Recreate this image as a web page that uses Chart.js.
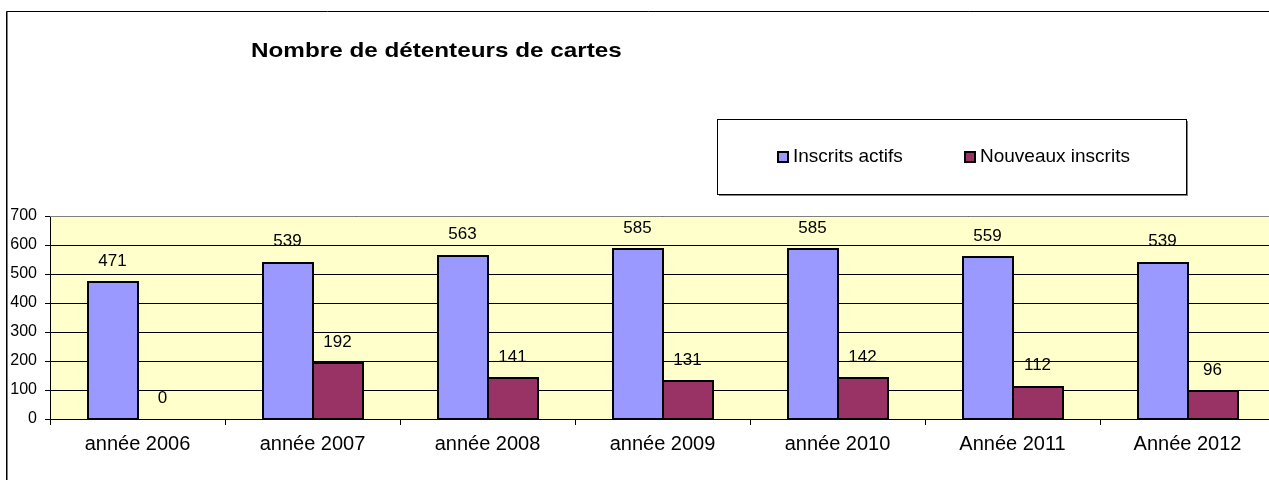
<!DOCTYPE html>
<html>
<head>
<meta charset="utf-8">
<script src="https://cdn.jsdelivr.net/npm/chart.js@4/dist/chart.umd.min.js"></script>
<style>
html,body{margin:0;padding:0;background:#fff;overflow:hidden;width:1269px;height:480px;}
canvas{display:block;}
</style>
</head>
<body>
<canvas id="c" width="1290" height="480" style="width:1290px;height:480px"></canvas>
<script>
const titleText = "Nombre de détenteurs de cartes";
const categories = ["année 2006","année 2007","année 2008","année 2009","année 2010","Année 2011","Année 2012"];
const seriesNames = ["Inscrits actifs","Nouveaux inscrits"];
const inscritsActifs = [471,539,563,585,585,559,539];
const nouveauxInscrits = [0,192,141,131,142,112,96];
const yTicks = [0,100,200,300,400,500,600,700];
const colors = ["#9999FF","#993366"];

const FONT = "'Liberation Sans', Arial, sans-serif";

const decor = {
  id:'decor',
  beforeDraw(chart){
    const ctx = chart.ctx, a = chart.chartArea;
    ctx.save();
    ctx.fillStyle = '#fff';
    ctx.fillRect(0,0,chart.width,chart.height);
    // outer frame
    ctx.strokeStyle = '#000'; ctx.lineWidth = 1;
    ctx.beginPath(); ctx.moveTo(6.5,1000); ctx.lineTo(6.5,11.5); ctx.lineTo(2000,11.5); ctx.stroke();
    ctx.strokeStyle = '#808080';
    ctx.beginPath(); ctx.moveTo(7.5,1000); ctx.lineTo(7.5,12); ctx.stroke();
    // plot background
    ctx.fillStyle = '#FFFFCC';
    ctx.fillRect(a.left, a.top, a.right-a.left, a.bottom-a.top);
    ctx.restore();
  },
  afterDatasetsDraw(chart){
    const ctx = chart.ctx;
    ctx.save();
    // bar outlines
    ctx.strokeStyle = '#000';
    ctx.lineWidth = 2;
    chart.data.datasets.forEach((ds,i)=>{
      const meta = chart.getDatasetMeta(i);
      meta.data.forEach((el,j)=>{
        if (!ds.data[j]) return;
        const p = el.getProps(['x','y','base','width'], true);
        const l = Math.round(p.x - p.width/2);
        const r = Math.round(p.x + p.width/2);
        const t = Math.round(p.y);
        const b = Math.round(p.base);
        ctx.strokeRect(l, t, r-l, b-t);
      });
    });
    // data labels
    ctx.font = "17px " + FONT;
    ctx.fillStyle = '#000';
    ctx.textAlign = 'center';
    ctx.textBaseline = 'middle';
    chart.data.datasets.forEach((ds,i)=>{
      const meta = chart.getDatasetMeta(i);
      meta.data.forEach((el,j)=>{
        ctx.fillText(String(ds.data[j]), el.x, el.y - 21);
      });
    });
    ctx.restore();
  },
  afterDraw(chart){
    const ctx = chart.ctx, a = chart.chartArea;
    ctx.save();
    // plot border top (gray)
    ctx.strokeStyle = '#808080'; ctx.lineWidth = 1;
    ctx.beginPath(); ctx.moveTo(a.left, a.top+0.5); ctx.lineTo(a.right, a.top+0.5); ctx.stroke();
    // title
    ctx.fillStyle = '#000';
    ctx.font = "bold 21px " + FONT;
    ctx.textBaseline = 'alphabetic';
    ctx.translate(251, 57);
    ctx.scale(1.155, 1);
    ctx.fillText(titleText, 0, 0);
    ctx.restore();
    // legend
    ctx.save();
    ctx.fillStyle = '#808080';
    ctx.fillRect(719, 121, 469, 75);
    ctx.fillStyle = '#fff';
    ctx.fillRect(717, 119, 469, 75);
    ctx.strokeStyle = '#000'; ctx.lineWidth = 1;
    ctx.strokeRect(717.5, 119.5, 469, 75);
    ctx.font = "19px " + FONT;
    ctx.textBaseline = 'middle';
    const xs = [777, 964];
    chart.data.datasets.forEach((ds,i)=>{
      ctx.fillStyle = ds.backgroundColor;
      ctx.fillRect(xs[i], 151, 11, 11);
      ctx.lineWidth = 2; ctx.strokeStyle = '#000';
      ctx.strokeRect(xs[i]+1, 152, 10, 10);
      ctx.fillStyle = '#000';
      ctx.fillText(ds.label, xs[i]+16, 157);
    });
    ctx.restore();
  }
};

new Chart(document.getElementById('c'), {
  type:'bar',
  data:{
    labels: categories,
    datasets:[
      {label: seriesNames[0], data: inscritsActifs, backgroundColor: colors[0], borderWidth:0},
      {label: seriesNames[1], data: nouveauxInscrits, backgroundColor: colors[1], borderWidth:0}
    ]
  },
  options:{
    responsive:false,
    animation:false,
    devicePixelRatio:1,
    layout:{padding:{top:216,left:0,right:15,bottom:0}},
    datasets:{bar:{categoryPercentage:100/175, barPercentage:1}},
    plugins:{legend:{display:false}, title:{display:false}, tooltip:{enabled:false}},
    scales:{
      x:{
        offset:true,
        grid:{offset:true, drawOnChartArea:false, drawTicks:true, tickLength:6, color:'#000', lineWidth:1},
        border:{color:'#000', width:1},
        ticks:{color:'#000', font:{family:FONT, size:20}, padding:7, maxRotation:0, autoSkip:false},
        afterFit(s){ s.height = 61; }
      },
      y:{
        min:0, max:700,
        afterBuildTicks(s){ s.ticks = yTicks.map(v=>({value:v})); },
        grid:{color:'#000', lineWidth:1, drawTicks:true, tickLength:5},
        border:{color:'#000', width:1},
        ticks:{color:'#000', font:{family:FONT, size:16}, padding:8},
        afterFit(s){ s.width = 50; }
      }
    }
  },
  plugins:[decor]
});
</script>
</body>
</html>
